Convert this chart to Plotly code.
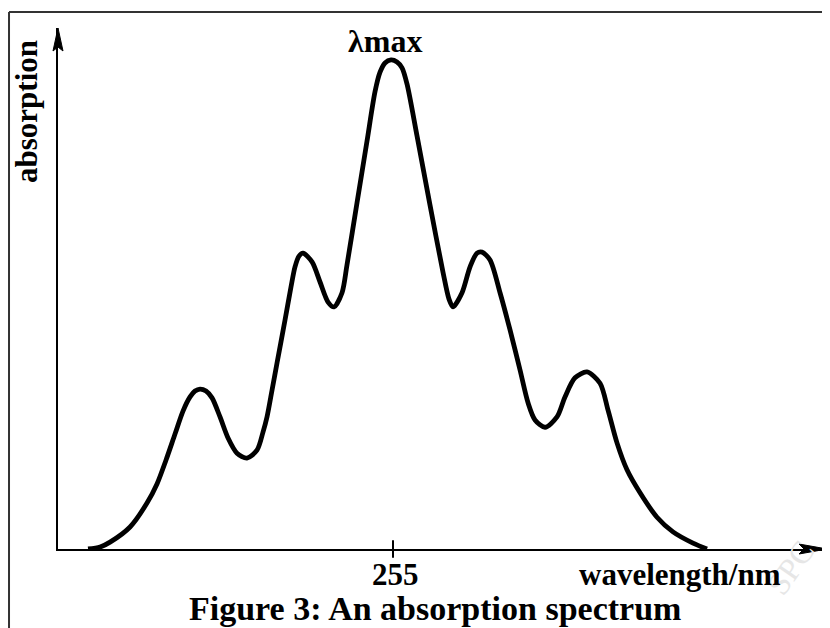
import plotly.graph_objects as go

# ---- data (wavelength in nm, absorption in relative units)
wavelength = [216.88, 218.38, 219.63, 222.13, 224.25, 225.50, 226.63, 227.75, 228.75, 229.63,
              230.25, 230.88, 231.63, 232.38, 233.38, 234.38, 235.50, 236.75, 238.00, 238.75,
              239.25, 239.88, 240.50, 241.50, 242.25, 242.75, 243.25, 243.75, 244.88, 245.88,
              246.88, 247.63, 248.63, 249.25, 250.50, 251.75, 252.75, 253.38, 254.00, 254.75,
              255.50, 256.13, 256.75, 258.00, 259.63, 261.25, 262.00, 262.50, 263.63, 264.63,
              265.50, 266.13, 267.13, 268.38, 269.63, 270.88, 271.88, 272.75, 274.00, 275.50,
              276.50, 277.75, 279.25, 280.88, 281.88, 283.00, 284.25, 285.88, 288.00, 290.00,
              292.50, 294.25]
absorption = [0.000, 0.004, 0.014, 0.045, 0.094, 0.133, 0.182, 0.235, 0.282, 0.311,
              0.323, 0.327, 0.323, 0.309, 0.270, 0.227, 0.196, 0.186, 0.202, 0.239,
              0.270, 0.325, 0.380, 0.468, 0.536, 0.577, 0.599, 0.605, 0.587, 0.546,
              0.505, 0.495, 0.524, 0.581, 0.708, 0.834, 0.935, 0.975, 0.994, 1.000,
              0.996, 0.984, 0.951, 0.845, 0.703, 0.566, 0.511, 0.495, 0.524, 0.577,
              0.605, 0.607, 0.591, 0.524, 0.448, 0.366, 0.299, 0.264, 0.249, 0.270,
              0.311, 0.350, 0.362, 0.339, 0.284, 0.217, 0.162, 0.115, 0.065, 0.035,
              0.012, 0.000]

tick_values = [255]
tick_labels = ["255"]
x_range = [213.125, 309.25]
y_range = [0, 1.0654]

FONT = "Liberation Serif, Times New Roman, serif"

fig = go.Figure()
fig.add_trace(go.Scatter(
    x=wavelength, y=absorption, mode="lines",
    line=dict(color="black", width=4.8, shape="spline", smoothing=0.8),
    hoverinfo="skip", showlegend=False))

fig.update_layout(
    width=822, height=620,
    margin=dict(l=50, r=3, t=20, b=79),
    paper_bgcolor="white", plot_bgcolor="white",
    showlegend=False,
    xaxis=dict(range=x_range, showgrid=False, zeroline=False, showline=True,
               linecolor="black", linewidth=2, ticks="", showticklabels=False,
               fixedrange=True),
    yaxis=dict(range=y_range, showgrid=False, zeroline=False, showline=True,
               linecolor="black", linewidth=2, ticks="", showticklabels=False,
               fixedrange=True),
)

shapes = []
# tick mark crossing the axis at 255
for tv in tick_values:
    shapes.append(dict(type="line", xref="x", yref="paper", x0=tv, x1=tv,
                       y0=-0.017, y1=0.017, line=dict(color="black", width=2)))
# arrowheads (pixel-sized, anchored at the axis ends)
shapes.append(dict(type="path", xref="paper", yref="paper", xsizemode="pixel", ysizemode="pixel",
                   xanchor=1, yanchor=0,
                   path="M0,0 L-28,-5 L-23,0 L-28,5 Z",
                   fillcolor="black", line=dict(color="black", width=1)))
shapes.append(dict(type="path", xref="paper", yref="paper", xsizemode="pixel", ysizemode="pixel",
                   xanchor=0, yanchor=1,
                   path="M0,0 L-5,-23 L0,-19 L5,-23 Z",
                   fillcolor="black", line=dict(color="black", width=1)))
# page frame (left and top)
shapes.append(dict(type="line", xref="paper", yref="paper", x0=-0.0637, x1=-0.0637,
                   y0=1.0307, y1=-0.17, line=dict(color="#333333", width=2)))
shapes.append(dict(type="line", xref="paper", yref="paper", x0=-0.0637, x1=1.01,
                   y0=1.0307, y1=1.0307, line=dict(color="#333333", width=2)))
fig.update_layout(shapes=shapes)

common = dict(showarrow=False, xanchor="center", yanchor="middle")
annotations = [
    dict(text="SPC", x=0.952, y=-0.036, xref="paper", yref="paper", textangle=-55,
         font=dict(family=FONT, size=32, color="#e6e6e6"), **common),
    dict(text="<b>%s</b>" % tick_labels[0], x=tick_values[0] + 0.3, y=-0.048, xref="x", yref="paper",
         font=dict(family=FONT, size=31, color="black"), **common),
    dict(text="<b>λmax</b>", x=0.4252, y=0.975, xref="paper", yref="paper",
         font=dict(family=FONT, size=32, color="black"), **common),
    dict(text="<b>wavelength/nm</b>", x=0.8088, y=-0.048, xref="paper", yref="paper",
         font=dict(family=FONT, size=31, color="black"), **common),
    dict(text="<b>absorption</b>", x=-0.0403, y=0.8388, xref="paper", yref="paper", textangle=-90,
         font=dict(family=FONT, size=31, color="black"), **common),
    dict(text="<b>Figure 3: An absorption spectrum</b>", x=0.4902, y=-0.115,
         xref="paper", yref="paper",
         font=dict(family=FONT, size=34, color="black"), **common),
]
fig.update_layout(annotations=annotations)

fig.write_html("out.html")
